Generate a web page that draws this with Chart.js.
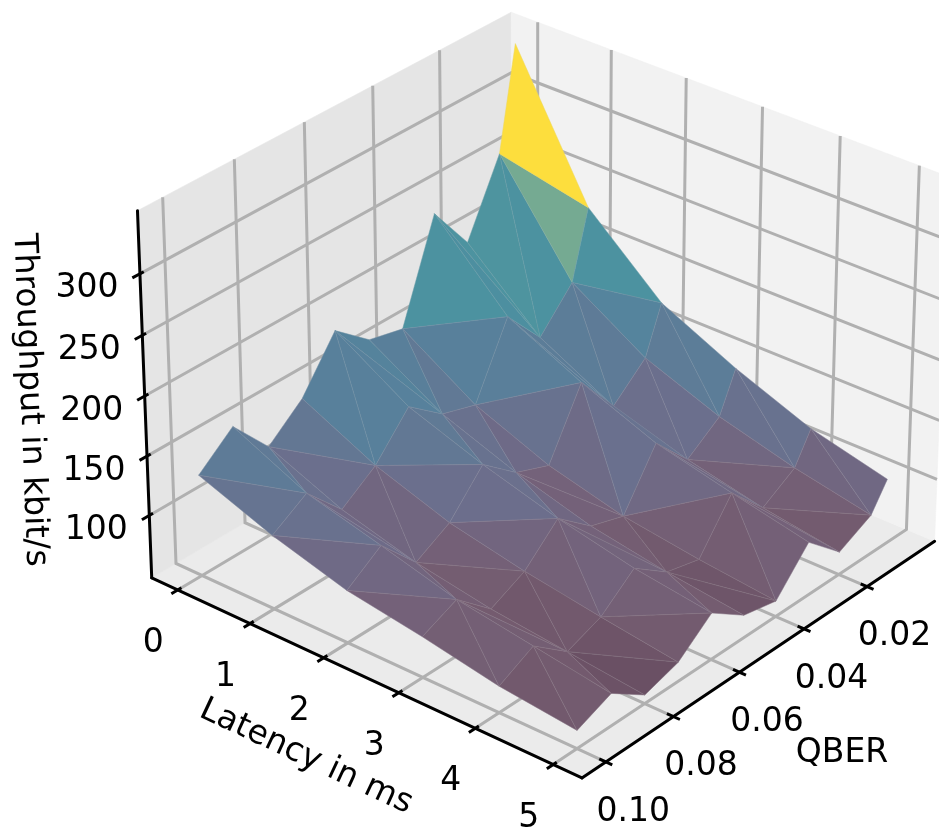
<!DOCTYPE html>
<html><head><meta charset="utf-8"><style>html,body{margin:0;padding:0;background:#fff}canvas{display:block}</style>
<script src="https://cdn.jsdelivr.net/npm/chart.js@4"></script></head>
<body><canvas id="c" width="939" height="833"></canvas>
<script>
// ---- data ----
const latency = [0, 1, 2, 3, 4, 5];
const qber = [0.10, 0.09, 0.08, 0.07, 0.06, 0.05, 0.04, 0.03, 0.02, 0.01, 0.005];
const throughputLat0 = [132,156,122,146,187,163,156,238,198,258,343];
const throughputLat1 = [109,127,96,116,149,126,117,176,142,173,229];
const throughputLat2 = [91,111,79,95,127,103,92,146,109,134,173];
const throughputLat3 = [81,94,68,82,109,85,76,121,90,110,143];
const throughputLat4 = [69,84,61,72,95,74,67,106,76,93,118];
const throughputLat5 = [62,74,54,63,86,66,60,92,66,80,102];
const throughput = [throughputLat0,throughputLat1,throughputLat2,throughputLat3,throughputLat4,throughputLat5];
// triangulation: which diagonal splits each grid cell
const diagonals = ['ABABABAABA','AABABBAABA','ABAABABABB','BABBABAAAB','BBAABABAAB'];
const latencyTicks = [0,1,2,3,4,5];
const qberTicks = [0.02,0.04,0.06,0.08,0.10];
const qberTickLabels = ['0.02','0.04','0.06','0.08','0.10'];
const zTicks = [100,150,200,250,300];

// ---- view (matplotlib-like 3D camera) ----
const AZ=39.934*Math.PI/180, EL=30.021*Math.PI/180, K=4560.685, TX=545.137, TY=379.766, DIST=13.089;
const BOX=[1.1905,1.1905,.8929*.996];
const Z0=66.146, Z1=331.416, ZR=Z1-Z0;
const LO=-1/48, HI=1+1/48;
const nL=v=>(v+.25)/5.5, nQ=v=>(v-.00025)/.1045, nZ=v=>(v-(Z0-.05*ZR))/(1.1*ZR);
const N=[Math.cos(EL)*Math.cos(AZ),Math.cos(EL)*Math.sin(AZ),Math.sin(EL)];
const U=[-Math.sin(AZ),Math.cos(AZ),0];
const W=[-Math.sin(EL)*Math.cos(AZ),-Math.sin(EL)*Math.sin(AZ),Math.cos(EL)];
const dot=(a,b)=>a[0]*b[0]+a[1]*b[1]+a[2]*b[2];
const rel=(a,b,c)=>[(a-.5)*BOX[0],(b-.5)*BOX[1],(c-.5)*BOX[2]];
function pr(a,b,c){const d=rel(a,b,c),w=DIST-dot(d,N);
  return {x:TX+K*dot(d,U)/w*DIST/10, y:TY-K*dot(d,W)/w*DIST/10};}
const depth=(a,b,c)=>dot(rel(a,b,c),N);

const layers=[];
function poly(pts,fillCol,line,width){ // closed, filled polygon in the chart's scales
  const data=pts.map(p=>pr(p[0],p[1],p[2])); data.push(data[0]);
  layers.push({data,showLine:true,fill:'shape',backgroundColor:fillCol,borderColor:line||fillCol,borderWidth:width===undefined?.6:width,pointRadius:0,tension:0});
}
function line(pts,col,width,cap){
  layers.push({data:pts.map(p=>pr(p[0],p[1],p[2])),showLine:true,fill:false,borderColor:col,borderWidth:width,pointRadius:0,tension:0,borderCapStyle:cap||'butt',borderJoinStyle:'miter'});
}
// panes
poly([[LO,LO,LO],[HI,LO,LO],[HI,HI,LO],[LO,HI,LO]],'#ebebeb');
poly([[HI,LO,LO],[LO,LO,LO],[LO,LO,HI],[HI,LO,HI]],'#e5e5e5');
poly([[LO,LO,LO],[LO,HI,LO],[LO,HI,HI],[LO,LO,HI]],'#f2f2f2');
// grid
const GRID='#b0b0b0', GW=3;
qberTicks.forEach(q=>line([[nQ(q),HI,LO],[nQ(q),LO,LO],[nQ(q),LO,HI]],GRID,GW));
latencyTicks.forEach(l=>line([[HI,nL(l),LO],[LO,nL(l),LO],[LO,nL(l),HI]],GRID,GW));
zTicks.forEach(z=>line([[HI,LO,nZ(z)],[LO,LO,nZ(z)],[LO,HI,nZ(z)]],GRID,GW));
// axes and ticks
const AX='#000', AW=3;
line([[HI,LO,LO],[HI,HI,LO]],AX,AW,'round');
line([[LO,HI,LO],[HI,HI,LO]],AX,AW,'round');
line([[HI,LO,LO],[HI,LO,HI]],AX,AW,'round');
latencyTicks.forEach(l=>line([[HI-.01,nL(l),LO],[HI+.0175,nL(l),LO]],AX,AW));
qberTicks.forEach(q=>line([[nQ(q),HI-.015,LO],[nQ(q),HI+.015,LO]],AX,AW));
zTicks.forEach(z=>line([[HI-.01,LO,nZ(z)],[HI+.02,LO,nZ(z)]],AX,AW));

// surface colours
const ramp=[[60,106,80,100],[75,116,92,112],[90,116,98,122],[110,108,110,140],[130,98,120,148],[150,88,128,155],[170,82,135,158],[190,76,146,160],[205,80,150,158],[220,117,170,146],[277,254,222,60]];
function colorFor(z){
  if(z<=ramp[0][0])return ramp[0].slice(1);
  for(let i=1;i<ramp.length;i++) if(z<=ramp[i][0]){const t=(z-ramp[i-1][0])/(ramp[i][0]-ramp[i-1][0]);
    return [1,2,3].map(k=>ramp[i-1][k]+t*(ramp[i][k]-ramp[i-1][k]));}
  return ramp[ramp.length-1].slice(1);
}
const faces=[];
function vtx(i,j){return [nQ(qber[j]),nL(latency[i]),nZ(throughput[i][j]),throughput[i][j]];}
for(let i=0;i<latency.length-1;i++)for(let j=0;j<qber.length-1;j++){
  const a=vtx(i,j),b=vtx(i,j+1),c=vtx(i+1,j),d=vtx(i+1,j+1);
  if(diagonals[i][j]==='A'){faces.push([a,d,b],[a,d,c]);}else{faces.push([c,b,a],[c,b,d]);}
}
faces.map(f=>({f,dp:(depth(...f[0])+depth(...f[1])+depth(...f[2]))/3}))
 .sort((x,y)=>x.dp-y.dp)
 .forEach(({f})=>{
   const c=colorFor((f[0][3]+f[1][3]+f[2][3])/3);
   const col=`rgb(${c.map(v=>Math.round(v)).join(',')})`;
   const hl=`rgb(${c.map(v=>Math.round(v+(190-v)*.25)).join(',')})`;
   poly(f.map(v=>v.slice(0,3)),col,hl,.5);
 });

const FONT='33px "DejaVu Sans"';
const textPlugin={id:'axisText',afterDraw(ch){
  const g=ch.ctx,sx=ch.scales.x,sy=ch.scales.y;
  g.save();g.fillStyle='#000';g.font=FONT;g.textAlign='center';g.textBaseline='middle';
  const put=(t,x,y,r)=>{g.save();g.translate(x,y);if(r)g.rotate(r*Math.PI/180);g.fillText(t,0,0);g.restore();};
  latencyTicks.forEach(l=>{const p=pr(HI,nL(l),LO);put(String(l),sx.getPixelForValue(p.x)-24.5,sy.getPixelForValue(p.y)+53.5);});
  qberTicks.forEach((q,i)=>{const p=pr(nQ(q),HI,LO);put(qberTickLabels[i],sx.getPixelForValue(p.x)+27.5,sy.getPixelForValue(p.y)+50);});
  zTicks.forEach(z=>{const p=pr(HI,LO,nZ(z));put(String(z),sx.getPixelForValue(p.x)-53,sy.getPixelForValue(p.y)+15);});
  put('QBER',842,753);
  put('Latency in ms',306,757,25);
  put('Throughput in kbit/s',29.5,400,87.8);
  g.restore();
}};

new Chart(document.getElementById('c'),{
  type:'scatter',
  data:{datasets:layers.slice().reverse()},
  options:{responsive:false,animation:false,devicePixelRatio:1,
    layout:{padding:0},
    plugins:{legend:{display:false},tooltip:{enabled:false},title:{display:false}},
    events:[],
    scales:{x:{type:'linear',min:0,max:939,display:false},y:{type:'linear',min:0,max:833,reverse:true,display:false}}
  },
  plugins:[textPlugin]
});
</script></body></html>
